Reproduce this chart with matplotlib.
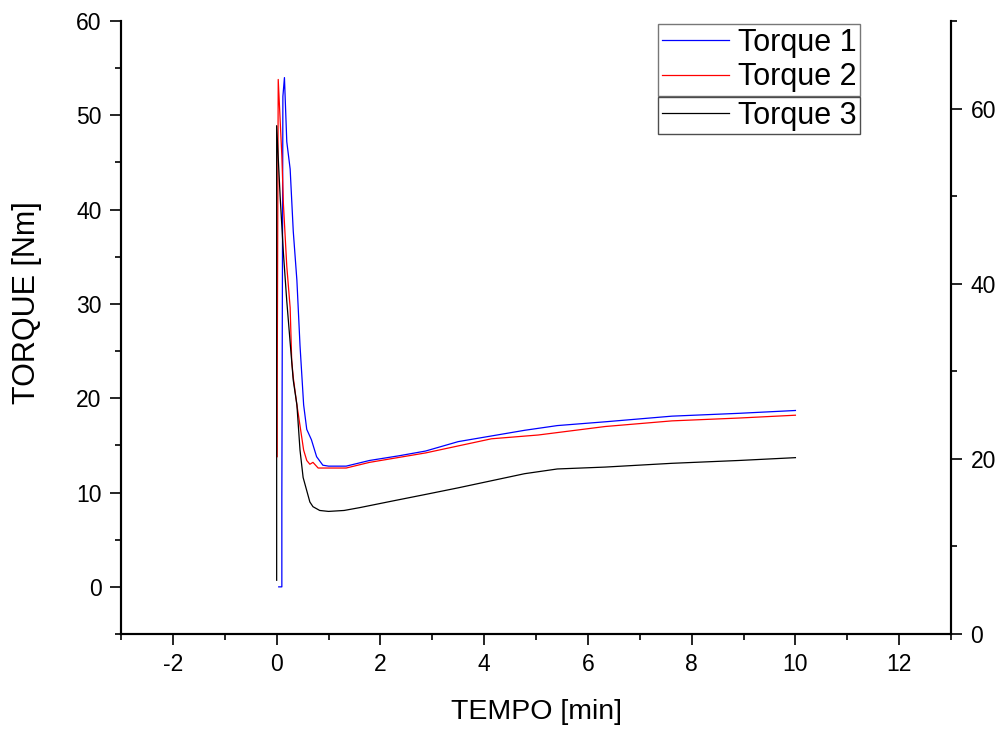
import matplotlib
matplotlib.use("Agg")
import matplotlib.pyplot as plt
from matplotlib.ticker import MultipleLocator

plt.rcParams["font.family"] = ["Liberation Sans", "DejaVu Sans"]
plt.rcParams["axes.unicode_minus"] = False

# --- data (TEMPO [min], TORQUE [Nm]) ------------------------------------------
t1_x = [0.04, 0.10, 0.10, 0.12, 0.15, 0.195, 0.26, 0.32, 0.39, 0.45, 0.52, 0.58,
        0.67, 0.77, 0.89, 1.0, 1.34, 1.79, 2.36, 2.87, 3.5, 4.14, 4.78, 5.41,
        6.33, 7.62, 8.91, 10.0]
t1_y = [0.0, 0.0, 9.5, 52.0, 54.0, 47.2, 44.3, 37.7, 32.5, 25.6, 19.3, 16.7,
        15.6, 13.8, 12.9, 12.8, 12.8, 13.4, 13.9, 14.4, 15.4, 16.0, 16.6, 17.1,
        17.5, 18.1, 18.4, 18.7]

t2_x = [0.01, 0.01, 0.03, 0.10, 0.13, 0.195, 0.26, 0.29, 0.32, 0.39, 0.45, 0.52,
        0.58, 0.64, 0.70, 0.80, 1.0, 1.34, 1.79, 2.87, 4.14, 5.04, 6.33, 7.62,
        8.91, 10.0]
t2_y = [13.8, 20.5, 53.8, 45.7, 40.6, 34.0, 29.6, 24.0, 22.2, 19.3, 17.1, 14.5,
        13.4, 13.0, 13.2, 12.6, 12.6, 12.6, 13.2, 14.2, 15.7, 16.1, 17.0, 17.6,
        17.9, 18.2]

t3_x = [0.0, 0.0, 0.067, 0.13, 0.195, 0.26, 0.32, 0.39, 0.45, 0.51, 0.58, 0.64,
        0.70, 0.83, 1.0, 1.3, 1.6, 2.23, 2.87, 3.5, 4.14, 4.78, 5.41, 6.33,
        7.62, 8.91, 10.0]
t3_y = [0.7, 48.9, 41.4, 35.4, 30.3, 25.9, 21.9, 19.3, 14.5, 11.6, 10.2, 9.0,
        8.5, 8.1, 8.0, 8.1, 8.4, 9.1, 9.8, 10.5, 11.25, 12.0, 12.5, 12.7,
        13.1, 13.4, 13.7]

labels = ["Torque 1", "Torque 2", "Torque 3"]
colors = ["#0000ff", "#ff0000", "#000000"]

fig = plt.figure(figsize=(9.97, 7.29), dpi=100)
ax = fig.add_axes([0.1214, 0.1303, 0.8325, 0.8409])

l1, = ax.plot(t1_x, t1_y, color=colors[0], lw=0.9, label=labels[0])
l2, = ax.plot(t2_x, t2_y, color=colors[1], lw=0.9, label=labels[1])
l3, = ax.plot(t3_x, t3_y, color=colors[2], lw=0.9, label=labels[2])

ax.set_xlim(-3, 13)
ax.set_ylim(-5, 60)
ax.xaxis.set_major_locator(MultipleLocator(2))
ax.xaxis.set_minor_locator(MultipleLocator(1))
ax.yaxis.set_major_locator(MultipleLocator(10))
ax.yaxis.set_minor_locator(MultipleLocator(5))
ax.spines["top"].set_visible(False)
for s in ax.spines.values():
    s.set_linewidth(1.5)
ax.tick_params(which="major", direction="out", length=8, width=1.2, labelsize=16.5, pad=6)
ax.tick_params(which="minor", direction="out", length=4.5, width=1.2)
ax.set_xlabel("TEMPO [min]", fontsize=20.5, labelpad=16)
ax.set_ylabel("TORQUE [Nm]", fontsize=22)
ax.yaxis.set_label_coords(-0.095, 0.54)

# secondary scale on the right
ax2 = ax.twinx()
ax2.set_ylim(0, 70)
ax2.yaxis.set_major_locator(MultipleLocator(20))
ax2.yaxis.set_minor_locator(MultipleLocator(10))
ax2.spines["top"].set_visible(False)
for s in ax2.spines.values():
    s.set_linewidth(1.5)
ax2.tick_params(which="major", direction="out", length=8, width=1.2, labelsize=16.5, pad=6)
ax2.tick_params(which="minor", direction="out", length=4.5, width=1.2)

# two overlapping legend boxes, as in the original export
leg_kw = dict(loc="upper left", fontsize=22, frameon=True, fancybox=False,
              handlelength=2.2, handletextpad=0.3, borderpad=0.12,
              labelspacing=0.15, borderaxespad=0.0)
leg_a = ax2.legend([l1, l2], labels[:2], bbox_to_anchor=(0.647, 0.995),
                   edgecolor="#555555", **leg_kw)
leg_a.get_frame().set_linewidth(1.0)
ax2.add_artist(leg_a)
leg_b = ax2.legend([l3], labels[2:], bbox_to_anchor=(0.647, 0.876),
                   edgecolor="#222222", **leg_kw)
leg_b.get_frame().set_linewidth(1.0)

fig.savefig("out.png", dpi=100)
